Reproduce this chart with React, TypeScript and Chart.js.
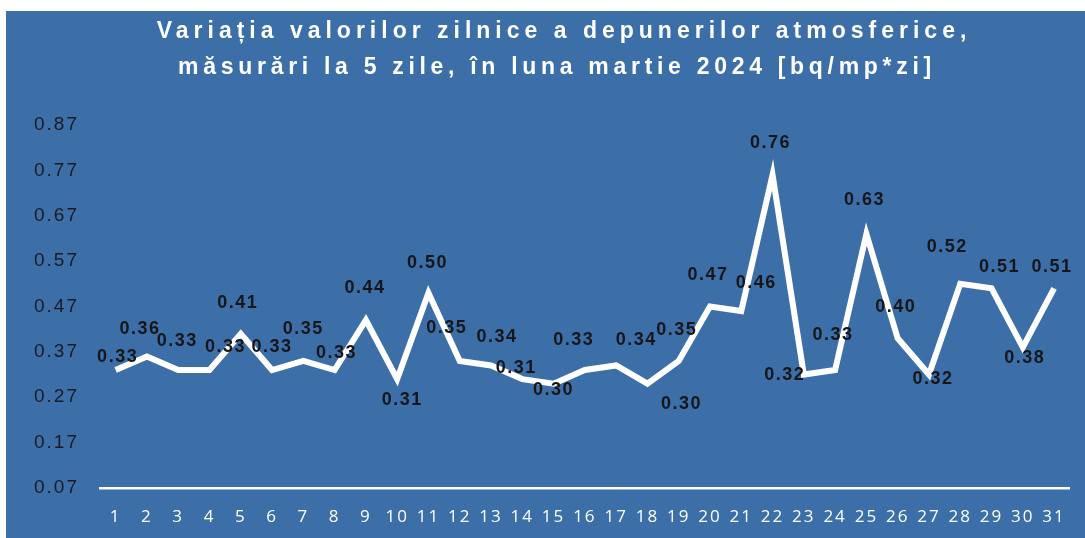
import React, { useEffect, useRef } from "react";
import { Chart, registerables } from "chart.js";

Chart.register(...registerables);

const days = [
  "1", "2", "3", "4", "5", "6", "7", "8", "9", "10", "11", "12", "13", "14", "15", "16",
  "17", "18", "19", "20", "21", "22", "23", "24", "25", "26", "27", "28", "29", "30", "31",
];

const values = [
  0.33, 0.36, 0.33, 0.33, 0.41, 0.33, 0.35, 0.33, 0.44, 0.31, 0.5, 0.35, 0.34, 0.31, 0.3, 0.33,
  0.34, 0.3, 0.35, 0.47, 0.46, 0.76, 0.32, 0.33, 0.63, 0.4, 0.32, 0.52, 0.51, 0.38, 0.51,
];

const yTicks = [0.07, 0.17, 0.27, 0.37, 0.47, 0.57, 0.67, 0.77, 0.87];

const titleLines = [
  "Variația valorilor zilnice a depunerilor atmosferice,",
  "măsurări la 5 zile, în luna martie 2024 [bq/mp*zi]",
];

// label offsets relative to each point (style only)
const labelDx = [2, -7, -1, 16, -3, 0, 0, 2, -1, 5, -1, -13, 6, -6, 0, -11, 20, 34, -2, -2, 15, -2, -19, -2, -2, -2, 4, -13, 8, 2, -2];
const labelDy = [-13, -27, -29, -23, -31, -23, -32, -17, -32, 21, -30, -33, -28, -11, 6, -30, -25, 20, -31, -31, -28, -32, 0, -35, -34, -31, 4, -37, -21, 11, -21];

const BG = "#3c6fa8";

const spacingPlugin = {
  id: "spacing",
  beforeLayout(chart: any) {
    chart.ctx.letterSpacing = "2px";
  },
  beforeDraw(chart: any) {
    chart.ctx.letterSpacing = "2px";
  },
};

const labelPlugin = {
  id: "pointLabels",
  afterDatasetsDraw(chart: any) {
    const ctx = chart.ctx;
    const meta = chart.getDatasetMeta(0);
    ctx.save();
    ctx.letterSpacing = "1.5px";
    ctx.font = "bold 18px 'Liberation Sans', Arial, sans-serif";
    ctx.fillStyle = "#16161a";
    ctx.textAlign = "center";
    ctx.textBaseline = "middle";
    meta.data.forEach((p: any, i: number) => {
      ctx.fillText(values[i].toFixed(2), p.x + labelDx[i], p.y + labelDy[i]);
    });
    ctx.restore();
  },
};

const titlePlugin = {
  id: "spacedTitle",
  afterDraw(chart: any) {
    const ctx = chart.ctx;
    ctx.save();
    ctx.font = "bold 23px 'Liberation Sans', Arial, sans-serif";
    ctx.fillStyle = "#ffffff";
    ctx.textAlign = "center";
    ctx.textBaseline = "alphabetic";
    ctx.letterSpacing = "5px";
    ctx.fillText(titleLines[0], 558, 27);
    ctx.letterSpacing = "4.7px";
    ctx.fillText(titleLines[1], 551, 63);
    ctx.restore();
  },
};

export default function App() {
  const ref = useRef<HTMLCanvasElement | null>(null);

  useEffect(() => {
    if (!ref.current) return;
    const chart = new Chart(ref.current, {
      type: "line",
      data: {
        labels: days,
        datasets: [
          {
            data: values,
            borderColor: "#ffffff",
            borderWidth: 6,
            borderJoinStyle: "miter",
            pointRadius: 0,
            pointHoverRadius: 0,
            tension: 0,
            fill: false,
          },
        ],
      },
      options: {
        responsive: false,
        animation: false,
        devicePixelRatio: 1,
        layout: { padding: { top: 114, right: 12, bottom: 0, left: 0 } },
        plugins: {
          legend: { display: false },
          title: { display: false },
          tooltip: { enabled: false },
        },
        scales: {
          x: {
            offset: true,
            grid: { display: false, drawTicks: false, tickLength: 0 },
            border: { display: true, color: "#ffffff", width: 2.5 },
            ticks: {
              color: "#ffffff",
              font: { family: "'Open Sans', sans-serif", size: 17 },
              padding: 19,
              maxRotation: 0,
              autoSkip: false,
            },
            afterFit(scale: any) {
              scale.height = 50;
            },
          },
          y: {
            min: 0.07,
            max: 0.87,
            grid: { display: false, drawTicks: false, tickLength: 0 },
            border: { display: false },
            afterBuildTicks(scale: any) {
              scale.ticks = yTicks.map((v) => ({ value: v }));
            },
            ticks: {
              color: "#1a1a22",
              font: { family: "'Liberation Sans', Arial, sans-serif", size: 19 },
              padding: 21,
              callback: (v: any) => Number(v).toFixed(2),
            },
            afterFit(scale: any) {
              scale.width = 94;
            },
          },
        },
      },
      plugins: [spacingPlugin, labelPlugin, titlePlugin],
    });
    return () => chart.destroy();
  }, []);

  return (
    <div
      style={{
        position: "absolute",
        left: 0,
        top: 0,
        width: 1085,
        height: 538,
        background: "#ffffff",
        overflow: "hidden",
      }}
    >
      <canvas
        ref={ref}
        width={1079}
        height={527}
        style={{
          position: "absolute",
          left: 6,
          top: 11,
          width: 1079,
          height: 527,
          background: BG,
        }}
      />
    </div>
  );
}
